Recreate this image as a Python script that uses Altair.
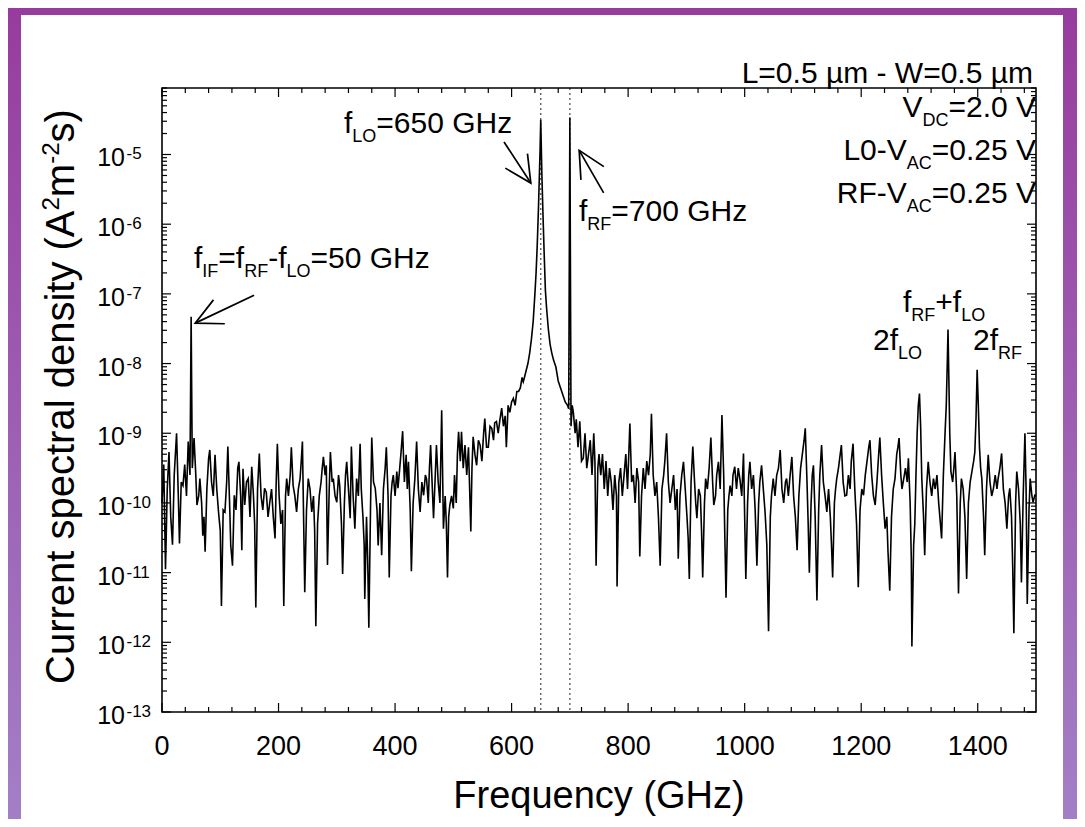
import math
import altair as alt
import pandas as pd

# ---------------- values ----------------
# spectrum: (frequency in GHz, log10 of current spectral density in A^2 m^-2 s)
seg_000_100 = [(0,-10.0),(3,-9.45),(6,-10.95),(9,-9.8),(12,-9.27),(15,-10.2),(18,-10.6),(21,-9.6),(25,-9.0),(28,-9.9),
               (30,-10.58),(33,-9.7),(36,-9.75),(39,-9.45),(42,-9.9),(45,-9.12),(48,-9.6),(50,-7.33),(52,-9.5),(55,-9.07),
               (58,-9.6),(60,-10.03),(63,-9.9),(65,-9.65),(68,-10.0),(70,-10.47),(72,-10.2),(74,-10.7),(77,-9.8),(80,-9.36),
               (82,-9.24),(85,-9.7),(88,-9.9),(91,-9.31),(94,-9.8),(97,-10.13),(100,-10.4)]
seg_100_200 = [(102,-11.48),(105,-10.1),(108,-10.13),(111,-9.7),(113,-9.19),(116,-10.0),(118,-10.61),(121,-10.9),(124,-9.89),
               (127,-10.1),(130,-9.5),(132,-9.41),(135,-9.9),(137,-10.68),(139,-9.51),(142,-10.03),(145,-9.7),(148,-9.65),
               (151,-10.2),(154,-9.48),(157,-9.9),(159,-10.3),(161,-11.5),(164,-9.8),(167,-9.29),(170,-9.9),(173,-10.1),
               (176,-9.79),(179,-9.85),(182,-10.2),(185,-9.99),(188,-9.8),(191,-10.2),(194,-10.51),(196,-9.7),(198,-9.15)]
seg_200_300 = [(201,-9.9),(204,-10.3),(207,-10.1),(209,-11.48),(212,-9.9),(214,-9.65),(217,-9.9),(220,-9.6),(222,-9.2),
               (225,-9.75),(228,-9.9),(231,-10.13),(234,-9.8),(237,-9.65),(239,-9.4),(241,-9.12),(243,-10.2),(245,-11.28),
               (248,-10.1),(251,-9.65),(254,-9.8),(257,-10.13),(260,-9.9),(262,-10.4),(264,-11.77),(267,-10.3),(270,-9.89),
               (273,-9.7),(275,-9.5),(277,-9.34),(280,-9.6),(282,-9.46),(284,-10.89),(287,-9.8),(289,-9.27),(292,-9.7),
               (294,-9.65),(297,-9.9),(300,-9.99)]
seg_300_400 = [(303,-9.6),(305,-9.75),(308,-10.3),(310,-11.02),(313,-10.0),(315,-9.6),(317,-9.41),(320,-9.8),(323,-10.22),
               (325,-9.19),(328,-9.9),(331,-10.37),(334,-9.65),(337,-9.9),(340,-9.15),(342,-9.8),(345,-10.22),(347,-10.6),
               (348,-11.38),(351,-10.2),(353,-10.8),(355,-11.79),(358,-10.0),(360,-9.06),(363,-9.7),(366,-9.79),(369,-10.1),
               (371,-10.61),(374,-10.0),(377,-10.75),(380,-9.8),(383,-9.5),(385,-9.2),(388,-9.9),(390,-11.07),(393,-9.9),
               (395,-9.7),(397,-9.6),(400,-9.9)]
seg_400_500 = [(403,-9.55),(405,-9.79),(408,-9.5),(410,-9.3),(413,-8.97),(416,-9.7),(419,-9.31),(421,-9.8),(423,-9.41),
               (426,-10.1),(428,-10.98),(431,-10.0),(434,-9.65),(437,-9.12),(440,-9.8),(443,-10.13),(446,-9.7),(449,-9.89),
               (452,-9.6),(454,-9.65),(457,-10.0),(459,-9.5),(461,-9.17),(464,-9.8),(466,-10.22),(469,-9.6),(471,-9.17),
               (474,-9.7),(477,-10.0),(480,-8.67),(483,-10.37),(486,-9.9),(488,-10.3),(490,-11.07),(492,-10.2),(494,-10.03),
               (497,-9.9),(500,-10.08)]
seg_500_620 = [(502,-9.6),(505,-10.0),(507,-9.3),(509,-8.98),(512,-9.4),(514,-8.98),(517,-9.5),(520,-9.17),(523,-9.6),
               (526,-9.2),(528,-9.8),(530,-10.41),(532,-9.5),(534,-9.05),(537,-9.3),(540,-9.46),(543,-9.1),(546,-9.17),
               (549,-9.4),(552,-9.0),(554,-8.79),(557,-9.2),(560,-9.2),(563,-8.9),(566,-8.93),(569,-9.1),(571,-8.85),
               (574,-8.83),(577,-9.0),(580,-8.8),(583,-8.64),(586,-8.9),(589,-8.75),(591,-9.2),(594,-8.6),(597,-8.7),
               (600,-8.55),(603,-8.5),(606,-8.6),(609,-8.4),(612,-8.4),(615,-8.35),(618,-8.2),(620,-8.26)]
seg_lo_rf = [(622,-8.2),(625,-8.1),(628,-8.0),(631,-7.85),(634,-7.65),(637,-7.4),(640,-7.0),(642,-6.7),(644,-6.3),
             (646,-5.8),(648,-5.2),(649,-4.9),(650,-4.5),(651,-4.9),(652,-5.3),(654,-5.9),(656,-6.45),(658,-6.95),
             (660,-7.2),(663,-7.5),(666,-7.72),(669,-7.85),(672,-7.95),(676,-8.05),(680,-8.25),(684,-8.35),(688,-8.45),
             (692,-8.55),(696,-8.6),(698,-8.65),(700,-4.47)]
seg_700_800 = [(702,-8.9),(704,-8.6),(706,-8.7),(709,-9.0),(711,-8.8),(714,-9.2),(717,-8.83),(720,-9.4),(723,-9.36),
               (726,-9.0),(729,-9.5),(732,-9.3),(735,-9.1),(738,-9.6),(741,-9.0),(743,-9.4),(745,-10.9),(748,-9.5),
               (750,-9.3),(753,-9.6),(756,-9.3),(759,-9.8),(762,-9.4),(765,-9.9),(768,-9.5),(771,-9.7),(774,-10.1),
               (777,-9.6),(780,-9.9),(781,-11.2),(784,-9.7),(787,-9.5),(790,-9.9),(793,-9.6),(796,-9.3),(799,-9.8)]
seg_800_900 = [(803,-8.86),(806,-9.7),(809,-9.6),(812,-10.0),(815,-9.5),(818,-9.7),(820,-10.77),(823,-9.9),(826,-9.5),
               (829,-9.8),(832,-9.4),(835,-9.6),(838,-9.3),(840,-8.72),(843,-9.6),(846,-9.9),(849,-9.7),(852,-10.2),
               (855,-10.9),(858,-9.8),(861,-9.6),(863,-9.4),(866,-9.0),(869,-9.7),(872,-10.0),(875,-9.8),(878,-9.6),
               (881,-10.1),(884,-9.8),(886,-10.8),(889,-9.9),(892,-9.6),(895,-9.41),(898,-9.8)]
seg_900_1000 = [(901,-10.2),(903,-10.5),(905,-11.09),(908,-9.7),(911,-9.19),(914,-9.7),(916,-10.0),(918,-10.22),(921,-9.8),
                (924,-9.9),(926,-10.4),(928,-11.07),(931,-10.0),(933,-9.65),(936,-9.8),(939,-9.5),(942,-9.06),(945,-9.7),
                (947,-10.03),(950,-9.9),(952,-9.6),(955,-9.41),(958,-9.8),(961,-8.74),(964,-9.6),(966,-10.5),(968,-11.36),
                (971,-10.1),(973,-9.9),(975,-9.75),(978,-9.9),(980,-9.6),(983,-9.48),(986,-9.8),(989,-9.5),(992,-9.67),
                (995,-9.9),(998,-9.29)]
seg_1000_1100 = [(1000,-10.2),(1002,-11.09),(1005,-10.0),(1007,-9.6),(1009,-9.41),(1012,-9.8),(1015,-9.6),(1018,-10.1),
                 (1021,-10.9),(1024,-10.0),(1026,-9.7),(1029,-9.46),(1032,-9.8),(1035,-10.13),(1038,-10.6),(1041,-11.84),
                 (1044,-10.2),(1046,-9.9),(1049,-9.65),(1052,-9.9),(1055,-9.6),(1058,-9.5),(1061,-9.24),(1064,-9.8),
                 (1067,-10.0),(1070,-9.7),(1072,-9.65),(1075,-9.9),(1078,-9.6),(1081,-9.34),(1084,-9.9),(1087,-10.2),
                 (1090,-10.68),(1093,-9.9),(1096,-9.5),(1099,-9.3)]
seg_1100_1200 = [(1102,-9.1),(1104,-8.93),(1107,-9.7),(1109,-10.3),(1111,-11.0),(1114,-10.0),(1116,-9.6),(1118,-9.46),
                 (1121,-10.2),(1124,-11.4),(1127,-10.1),(1129,-9.6),(1132,-9.17),(1135,-9.7),(1138,-9.9),(1141,-10.13),
                 (1144,-9.8),(1147,-10.2),(1149,-10.6),(1151,-11.07),(1154,-10.0),(1156,-9.8),(1158,-9.65),(1161,-9.5),
                 (1164,-9.3),(1166,-9.17),(1169,-9.7),(1172,-9.9),(1175,-9.89),(1178,-9.6),(1181,-9.8),(1183,-9.4),
                 (1186,-9.15),(1189,-9.8),(1192,-10.3),(1195,-11.21),(1198,-10.1)]
seg_1200_1300 = [(1201,-9.8),(1204,-9.89),(1207,-9.6),(1210,-9.4),(1213,-9.2),(1215,-9.1),(1218,-9.6),(1221,-9.9),
                 (1224,-10.03),(1227,-9.7),(1230,-9.3),(1232,-9.06),(1235,-9.6),(1238,-10.0),(1241,-10.37),(1244,-10.2),
                 (1246,-10.7),(1249,-11.26),(1252,-10.2),(1255,-9.8),(1258,-9.65),(1261,-9.3),(1263,-9.2),(1265,-9.07),
                 (1268,-9.6),(1270,-9.8),(1273,-9.65),(1276,-9.5),(1279,-9.7),(1281,-9.36),(1284,-10.0),(1286,-10.8),
                 (1287,-12.06),(1290,-10.61),(1292,-10.3),(1294,-9.6),(1296,-9.0),(1298,-8.6),(1300,-8.43)]
seg_1300_1400 = [(1302,-8.9),(1304,-9.65),(1307,-10.2),(1309,-10.75),(1312,-9.8),(1315,-9.41),(1318,-9.7),(1321,-9.9),
                 (1324,-9.65),(1327,-9.8),(1330,-9.6),(1333,-10.0),(1336,-10.3),(1338,-10.51),(1341,-9.6),(1344,-8.98),
                 (1346,-8.6),(1348,-7.9),(1349,-7.51),(1350,-8.0),(1352,-9.0),(1354,-9.55),(1357,-9.7),(1359,-9.5),
                 (1361,-9.27),(1364,-9.9),(1367,-11.3),(1370,-10.0),(1372,-9.65),(1375,-9.8),(1378,-10.2),(1381,-11.09),
                 (1384,-10.0),(1387,-9.7),(1390,-9.55),(1393,-9.4),(1395,-9.27),(1397,-8.8),(1399,-8.09)]
seg_1400_1500 = [(1401,-8.6),(1403,-9.2),(1405,-9.5),(1407,-9.65),(1410,-10.2),(1412,-10.75),(1415,-9.8),(1418,-9.31),
                 (1421,-9.7),(1424,-9.9),(1427,-9.79),(1430,-9.6),(1433,-9.8),(1435,-9.65),(1438,-9.5),(1441,-9.29),
                 (1444,-9.8),(1447,-10.0),(1450,-10.37),(1453,-9.9),(1455,-9.79),(1458,-10.2),(1460,-10.9),(1462,-11.87),
                 (1465,-10.0),(1467,-9.55),(1470,-9.8),(1473,-10.3),(1475,-11.14),(1478,-9.9),(1481,-9.0),(1483,-9.8),
                 (1485,-11.45),(1488,-10.1),(1490,-9.65),(1493,-9.9),(1495,-9.99),(1498,-9.89),(1500,-9.9)]

segments = [seg_000_100, seg_100_200, seg_200_300, seg_300_400, seg_400_500, seg_500_620, seg_lo_rf,
            seg_700_800, seg_800_900, seg_900_1000, seg_1000_1100, seg_1100_1200, seg_1200_1300,
            seg_1300_1400, seg_1400_1500]

marker_freqs = [650, 700]              # dotted vertical lines (LO, RF)

# arrows: start and tip, in (GHz, log10 density)
arrow_f_start = [158, 587, 758]
arrow_l_start = [-7.02, -4.82, -5.55]
arrow_f_tip = [57, 633, 716]
arrow_l_tip = [-7.42, -5.41, -4.94]

x_tick_values = [0, 200, 400, 600, 800, 1000, 1200, 1400]
y_decades = [-13, -12, -11, -10, -9, -8, -7, -6, -5]

# ---------------- layout ----------------
W, H = 874, 624
X0, Y0 = 162, 88           # page position of plot origin
XMAX = 1500
YMIN, YMAX = 1e-13, 9e-5
LMIN, LMAX = math.log10(YMIN), math.log10(YMAX)
DEC = LMAX - LMIN
FONT = "Liberation Sans, Arial, Helvetica, sans-serif"

xs = alt.Scale(domain=[0, XMAX], nice=False, zero=False)
ys = alt.Scale(type="log", domain=[YMIN, YMAX], nice=False)


def page_x(f):
    return X0 + f / XMAX * W


def page_y_log(l):
    return Y0 + (LMAX - l) / DEC * H


def to_data(px, py):
    return (px - X0) / W * XMAX, 10 ** (LMAX - (py - Y0) / H * DEC)


ARIAL = {' ': 278, '(': 333, ')': 333, '+': 584, '-': 333, '.': 278, '=': 584, 'A': 667, 'C': 722,
         'D': 722, 'F': 611, 'G': 778, 'H': 722, 'I': 278, 'L': 556, 'O': 778, 'R': 722, 'V': 667,
         'W': 944, 'f': 278, 'm': 833, 'z': 500, 'µ': 576, 'a': 556, 'c': 500, 'd': 556, 'e': 556,
         'i': 222, 'l': 222, 'n': 556, 'p': 556, 'q': 556, 'r': 333, 's': 500, 't': 278, 'u': 556,
         'y': 500}


def tw(s, fs):
    return sum(ARIAL.get(c, 556) for c in s) * fs / 1000.0


text_rows = []


def compose(pieces, fs, sfs, base, left=None, right=None, shift=9, angle=0):
    widths = [tw(t, fs if k == "n" else sfs) for t, k in pieces]
    total = sum(widths)
    pos = left if left is not None else right - total
    for (t, k), w in zip(pieces, widths):
        off = 0 if k == "n" else (shift if k == "sub" else -shift)
        size = fs if k == "n" else sfs
        if angle == 0:
            px, py = pos, base + off
            pos += w
        else:  # 270: reads upward, "up" of the text points left
            px, py = base + off, pos
            pos -= w
        f, p = to_data(px, py)
        text_rows.append({"tx": f, "ty": p, "t": t, "fs": size, "ang": angle})


FA, FS = 30, 18
N, SB, SP = "n", "sub", "sup"
compose([("L=0.5 µm - W=0.5 µm", N)], FA, FS, 83, right=1033)
compose([("V", N), ("DC", SB), ("=2.0 V", N)], FA, FS, 117, right=1036)
compose([("L0-V", N), ("AC", SB), ("=0.25 V", N)], FA, FS, 160, right=1036)
compose([("RF-V", N), ("AC", SB), ("=0.25 V", N)], FA, FS, 203, right=1036)
compose([("f", N), ("LO", SB), ("=650 GHz", N)], FA, FS, 133, left=344)
compose([("f", N), ("RF", SB), ("=700 GHz", N)], FA, FS, 221, left=579)
compose([("f", N), ("IF", SB), ("=f", N), ("RF", SB), ("-f", N), ("LO", SB), ("=50 GHz", N)], FA, FS, 268, left=194)
compose([("f", N), ("RF", SB), ("+f", N), ("LO", SB)], FA, FS, 312, left=903)
compose([("2f", N), ("LO", SB)], FA, FS, 350, left=873)
compose([("2f", N), ("RF", SB)], FA, FS, 350, left=973)

# y tick labels 10^e
for e in y_decades:
    ty = page_y_log(e)
    compose([("10", N)], 25, 25, ty + 12, right=125)
    compose([(str(e), N)], 17, 17, ty + 5, left=126.5)
# x tick labels
for v in x_tick_values:
    s = str(v)
    compose([(s, N)], 27, 27, 755, left=page_x(v) - tw(s, 27) / 2)
# axis titles
xt = "Frequency (GHz)"
compose([(xt, N)], 38, 38, 808, left=(X0 + X0 + W) / 2 - tw(xt, 38) / 2)
compose([("Current spectral density (A", N), ("2", SP), ("m", N), ("-2", SP), ("s)", N)],
        40, 24, 74, left=684, shift=15, angle=270)

text_df = pd.DataFrame(text_rows)

freq = [f for seg in segments for f, _ in seg]
logv = [l for seg in segments for _, l in seg]
spec_df = pd.DataFrame({"f": freq, "psd": [10 ** l for l in logv]})

# ---------------- layers ----------------
one = pd.DataFrame({"k": [0]})
bg = alt.Chart(one).mark_rect(
    fill=alt.Gradient(gradient="linear",
                      stops=[alt.GradientStop(color="#973c9e", offset=0),
                             alt.GradientStop(color="#a37fc6", offset=1)],
                      x1=0, x2=0, y1=0, y2=1)
).encode(x=alt.value(-X0 + 8), x2=alt.value(-X0 + 8 + 1069), y=alt.value(-Y0 + 8), y2=alt.value(-Y0 + 8 + 811))

panel = alt.Chart(one).mark_rect(fill="white").encode(
    x=alt.value(21 - X0), x2=alt.value(1063 - X0), y=alt.value(15 - Y0), y2=alt.value(830 - Y0))

dotted = alt.Chart(pd.DataFrame({"f": marker_freqs})).mark_rule(
    color="#555555", strokeWidth=1.3, strokeDash=[2, 3]
).encode(x=alt.X("f:Q", scale=xs, axis=None), y=alt.value(0), y2=alt.value(H))

line = alt.Chart(spec_df).mark_line(color="black", strokeWidth=1.6, strokeJoin="miter").encode(
    x=alt.X("f:Q", scale=xs, axis=None),
    y=alt.Y("psd:Q", scale=ys, axis=None))

y_major = [10.0 ** e for e in y_decades]
y_minor = [k * 10.0 ** e for e in y_decades for k in range(2, 10) if k * 10.0 ** e <= YMAX * 1.0001]
x_major = x_tick_values
x_minor = [v for v in range(40, XMAX, 40) if v % 200 != 0]


def yticks(vals, length, side):
    a, b = (0, length) if side == "left" else (W, W - length)
    return alt.Chart(pd.DataFrame({"v": vals})).mark_rule(color="black", strokeWidth=1.2).encode(
        y=alt.Y("v:Q", scale=ys, axis=None), x=alt.value(a), x2=alt.value(b))


def xticks(vals, length, side):
    a, b = (H, H - length) if side == "bottom" else (0, length)
    return alt.Chart(pd.DataFrame({"v": vals})).mark_rule(color="black", strokeWidth=1.2).encode(
        x=alt.X("v:Q", scale=xs, axis=None), y=alt.value(a), y2=alt.value(b))


ticks = [yticks(y_major, 9, "left"), yticks(y_minor, 5, "left"),
         yticks(y_major, 9, "right"), yticks(y_minor, 5, "right"),
         xticks(x_major, 9, "bottom"), xticks(x_minor, 5, "bottom"),
         xticks(x_major, 9, "top"), xticks(x_minor, 5, "top")]

angles = []
for fs_, ls_, ft_, lt_ in zip(arrow_f_start, arrow_l_start, arrow_f_tip, arrow_l_tip):
    dx = page_x(ft_) - page_x(fs_)
    dy = page_y_log(lt_) - page_y_log(ls_)
    angles.append(math.degrees(math.atan2(dy, dx)) % 360)
arrow_df = pd.DataFrame({
    "f1": arrow_f_start, "p1": [10 ** l for l in arrow_l_start],
    "f2": arrow_f_tip, "p2": [10 ** l for l in arrow_l_tip], "ang": angles})

arrow_lines = alt.Chart(arrow_df).mark_rule(color="black", strokeWidth=1.7).encode(
    x=alt.X("f1:Q", scale=xs, axis=None), y=alt.Y("p1:Q", scale=ys, axis=None),
    x2="f2:Q", y2="p2:Q")
arrow_heads = alt.Chart(arrow_df).mark_point(
    shape="M-1,-0.5L0,0L-1,0.5", filled=False, color="black", strokeWidth=1.7, opacity=1, size=2800
).encode(x=alt.X("f2:Q", scale=xs, axis=None), y=alt.Y("p2:Q", scale=ys, axis=None),
         angle=alt.Angle("ang:Q", scale=None))

texts = alt.Chart(text_df).mark_text(align="left", baseline="alphabetic", font=FONT, color="black").encode(
    x=alt.X("tx:Q", scale=xs, axis=None), y=alt.Y("ty:Q", scale=ys, axis=None),
    text="t:N", size=alt.Size("fs:Q", scale=None), angle=alt.Angle("ang:Q", scale=None))

frame = alt.Chart(one).mark_rect(filled=False, stroke="black", strokeWidth=1.6).encode(
    x=alt.value(0), x2=alt.value(W), y=alt.value(0), y2=alt.value(H))

chart = alt.layer(bg, panel, dotted, line, *ticks, arrow_lines, arrow_heads, texts, frame).properties(
    width=W, height=H,
    padding={"left": X0 - 8, "top": Y0 - 8, "right": 1069 - (X0 - 8) - W, "bottom": 811 - (Y0 - 8) - H},
    autosize=alt.AutoSizeParams(type="none"),
).configure_view(stroke=None)

chart.save("out.html", embed_options={"renderer": "svg", "actions": False})
